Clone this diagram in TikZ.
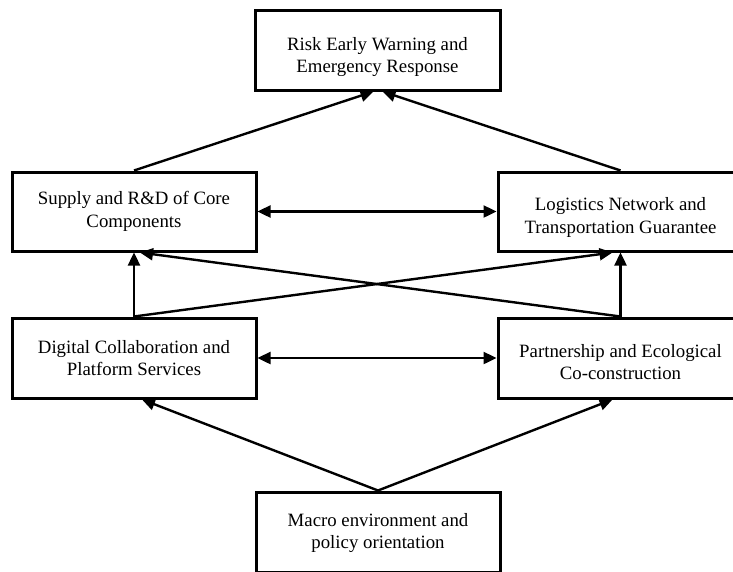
\documentclass[tikz,border=0pt]{standalone}
\usepackage{fontspec}
\setmainfont{Liberation Serif}
\usetikzlibrary{arrows.meta}
\begin{document}
\begin{tikzpicture}[x=1pt,y=-1pt,
  box/.style={draw,line width=3pt,inner sep=0pt,align=center,
    font=\fontsize{18.8}{22.5}\selectfont},
  arr/.style={line width=2.4pt,-{Triangle[length=13pt,width=12pt]}},
  darr/.style={line width=2.4pt,{Triangle[length=13pt,width=12pt]}-{Triangle[length=13pt,width=12pt]}}]
\useasboundingbox (0,0) rectangle (733,571);
\node[box,minimum width=245pt,minimum height=80pt,text height=49.3pt,text depth=4.1pt] (top) at (377.5,50) {Risk Early Warning and\\Emergency Response};
\node[box,minimum width=244pt,minimum height=79pt] (midL) at (134,211.5) {Supply and R\&D of Core\\Components};
\node[box,minimum width=245pt,minimum height=79pt,text height=47.3pt,text depth=4.1pt] (midR) at (620.5,211.5) {Logistics Network and\\Transportation Guarantee};
\node[box,minimum width=244pt,minimum height=80pt] (lowL) at (134,358) {Digital Collaboration and\\Platform Services};
\node[box,minimum width=245pt,minimum height=80pt,text height=43.3pt,text depth=0.2pt] (lowR) at (620.5,358) {Partnership and Ecological\\Co-construction};
\node[box,minimum width=244pt,minimum height=80pt,text height=37.8pt,text depth=4.1pt] (bot) at (378,532) {Macro environment and\\policy orientation};
% upper arrows
\draw[arr] (midL.north) -- ([xshift=-4pt]top.south);
\draw[arr] (midR.north) -- ([xshift=5pt]top.south);
% horizontal double arrows
\draw[darr] (midL.east) -- (midR.west);
\draw[darr] (lowL.east) -- (lowR.west);
% verticals
\draw[arr] (lowL.north) -- (midL.south);
\draw[arr] (lowR.north) -- (midR.south);
% crossing
\draw[arr] (lowL.north) -- ([xshift=-8pt]midR.south);
\draw[arr] (lowR.north) -- ([xshift=6pt]midL.south);
% bottom
\draw[arr] (bot.north) -- ([xshift=8pt]lowL.south);
\draw[arr] (bot.north) -- ([xshift=-8pt]lowR.south);
\end{tikzpicture}
\end{document}
